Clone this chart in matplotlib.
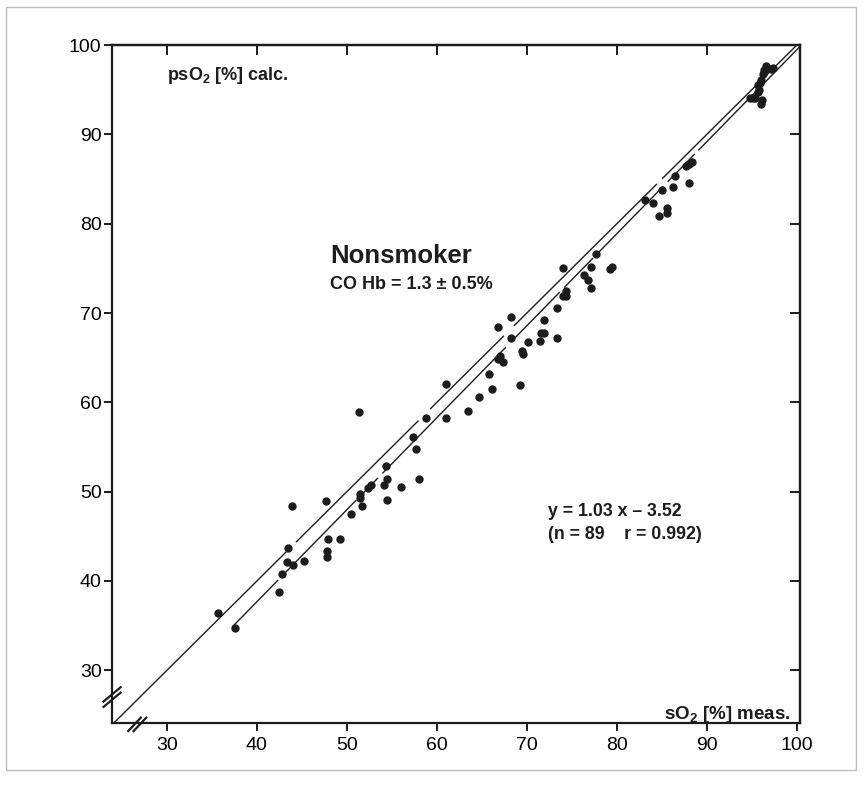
import matplotlib.pyplot as plt
from matplotlib import font_manager

plt.rcParams['font.family'] = ['Liberation Sans', 'DejaVu Sans']
plt.rcParams['mathtext.fontset'] = 'custom'
plt.rcParams['mathtext.rm'] = 'Liberation Sans'
plt.rcParams['mathtext.bf'] = 'Liberation Sans:bold'

so2_meas = [35.7, 37.6, 42.4, 42.8, 43.3, 43.5, 44.0, 43.9, 45.2, 47.7,
            47.9, 47.8, 47.8, 49.2, 50.5, 51.3, 51.5, 51.5, 51.7, 52.4,
            52.7, 54.3, 54.5, 54.1, 54.5, 56.0,
            58.0, 57.7, 57.4, 58.8, 61.0, 61.0, 63.5, 64.7, 66.1, 65.8,
            66.8, 66.8, 67.0, 67.4, 68.2, 68.2, 69.2, 69.5, 69.6, 70.1,
            71.5, 71.6, 71.9, 71.9, 73.4, 73.4,
            74.0, 74.0, 74.4, 74.4, 76.4, 76.8, 77.1, 77.1, 77.7, 79.2,
            79.5, 83.1, 84.0, 84.7, 85.0, 85.6, 85.6, 86.2, 86.5, 87.7,
            88.3, 88.0, 88.0,
            96.6, 97.1, 97.3, 96.4, 96.2, 96.0, 95.9, 95.7, 95.8, 95.7,
            94.8, 95.1, 95.3, 96.1, 96.0]
pso2_calc = [36.4, 34.7, 38.8, 40.8, 42.1, 43.7, 41.8, 48.4, 42.2, 49.0,
             44.7, 43.4, 42.7, 44.7, 47.5, 58.9, 49.7, 49.3, 48.4, 50.4,
             50.8, 52.9, 51.4, 50.7, 49.1, 50.5,
             51.4, 54.8, 56.1, 58.2, 62.0, 58.2, 59.0, 60.6, 61.5, 63.2,
             68.4, 64.9, 65.2, 64.5, 69.5, 67.2, 61.9, 65.7, 65.4, 66.8,
             66.9, 67.8, 67.8, 69.2, 67.2, 70.6,
             75.0, 71.9, 71.9, 72.5, 74.3, 73.7, 72.8, 75.2, 76.6, 74.9,
             75.1, 82.7, 82.3, 80.9, 83.8, 81.7, 81.2, 84.1, 85.3, 86.5,
             86.9, 86.7, 84.5,
             97.7, 97.3, 97.4, 97.2, 96.8, 96.1, 95.7, 95.5, 95.0, 94.7,
             94.1, 94.1, 94.1, 93.8, 93.4]

slope, intercept = 1.03, -3.52
n_pts, r_val = 89, 0.992
co_hb, co_hb_sd = 1.3, 0.5
ticks = [30, 40, 50, 60, 70, 80, 90, 100]

# hand-drawn gaps in the two lines (x ranges)
gaps_ident = [(43.3, 44.4), (57.9, 59.3), (67.4, 68.6), (84.4, 85.1)]
gaps_regr = [(42.3, 43.2), (51.0, 51.5), (53.4, 54.0), (67.6, 68.3),
             (73.6, 74.2), (77.3, 77.9), (85.1, 85.7), (88.6, 89.1)]


def pieces(x0, x1, gaps):
    out = []
    start = x0
    for g0, g1 in gaps:
        out.append((start, g0))
        start = g1
    out.append((start, x1))
    return out


ink = '#1c1c1c'
fig = plt.figure(figsize=(8.63, 7.87), dpi=100)

# faint frame of the scanned page
fig.add_artist(plt.Rectangle((6 / 863, 1 - 770 / 787), 850 / 863, 763 / 787,
                             transform=fig.transFigure, fill=False,
                             ec='#bdbdbd', lw=1.0))

ax = fig.add_axes([0.1298, 0.0813, 0.797, 0.8615])
x_lo, x_hi = 23.9, 100.33
y_lo, y_hi = 24.1, 100.0
ax.set_xlim(x_lo, x_hi)
ax.set_ylim(y_lo, y_hi)

for a, b in pieces(x_lo, 100.0, gaps_ident):
    ax.plot([a, b], [a, b], color=ink, lw=1.0)
for a, b in pieces(37.3, 100.3, gaps_regr):
    ax.plot([a, b], [slope * a + intercept, slope * b + intercept],
            color=ink, lw=1.0)

ax.plot(so2_meas, pso2_calc, 'o', ms=5.0, color=ink, mec=ink)

for s in ax.spines.values():
    s.set_linewidth(1.6)
    s.set_color(ink)

names = {f.name for f in font_manager.fontManager.ttflist}
tick_font = 'Liberation Sans Narrow' if 'Liberation Sans Narrow' in names else 'Liberation Sans'

ax.set_xticks(ticks)
ax.set_yticks(ticks)
ax.tick_params(direction='out', length=6, width=1.4, color=ink,
               labelsize=14, pad=1.5)
ax.tick_params(axis='x', pad=4)
for lab in ax.get_xticklabels() + ax.get_yticklabels():
    lab.set_family(tick_font)

top = ax.secondary_xaxis('top')
top.set_xticks(ticks[:-1])
top.tick_params(direction='in', length=7, width=1.4, labeltop=False, color=ink)
right = ax.secondary_yaxis('right')
right.set_yticks(ticks[:-1])
right.tick_params(direction='in', length=7, width=1.4, labelright=False, color=ink)
for sax in (top, right):
    for s in sax.spines.values():
        s.set_linewidth(1.6)

# axis break marks
for off in (-0.3, 0.3):
    ax.plot([x_lo - 0.95, x_lo + 0.95], [26.2 + off, 27.8 + off],
            color=ink, lw=1.6, clip_on=False)
    ax.plot([26.0 + off, 27.4 + off], [y_lo - 0.9, y_lo + 0.6],
            color=ink, lw=1.6, clip_on=False)

ax.text(30.0, 96.6, r'psO$_\mathbf{2}$ [%] calc.', fontsize=13,
        fontweight='bold', color=ink, va='center')
ax.text(99.3, 25.0, r'sO$_\mathbf{2}$ [%] meas.', fontsize=13.5,
        fontweight='bold', color=ink, va='center', ha='right')
ax.text(48.1, 76.4, 'Nonsmoker', fontsize=18.5, fontweight='bold',
        color=ink, va='center')
ax.text(48.1, 73.2, 'CO Hb = %.1f \u00b1 %.1f%%' % (co_hb, co_hb_sd),
        fontsize=13, fontweight='bold', color=ink, va='center')
ax.text(72.3, 47.8, 'y = %.2f x \u2013 %.2f' % (slope, -intercept),
        fontsize=12.8, fontweight='bold', color=ink, va='center')
ax.text(72.3, 45.2, '(n = %d    r = %.3f)' % (n_pts, r_val),
        fontsize=12.8, fontweight='bold', color=ink, va='center')

fig.savefig('out.png', dpi=100)
